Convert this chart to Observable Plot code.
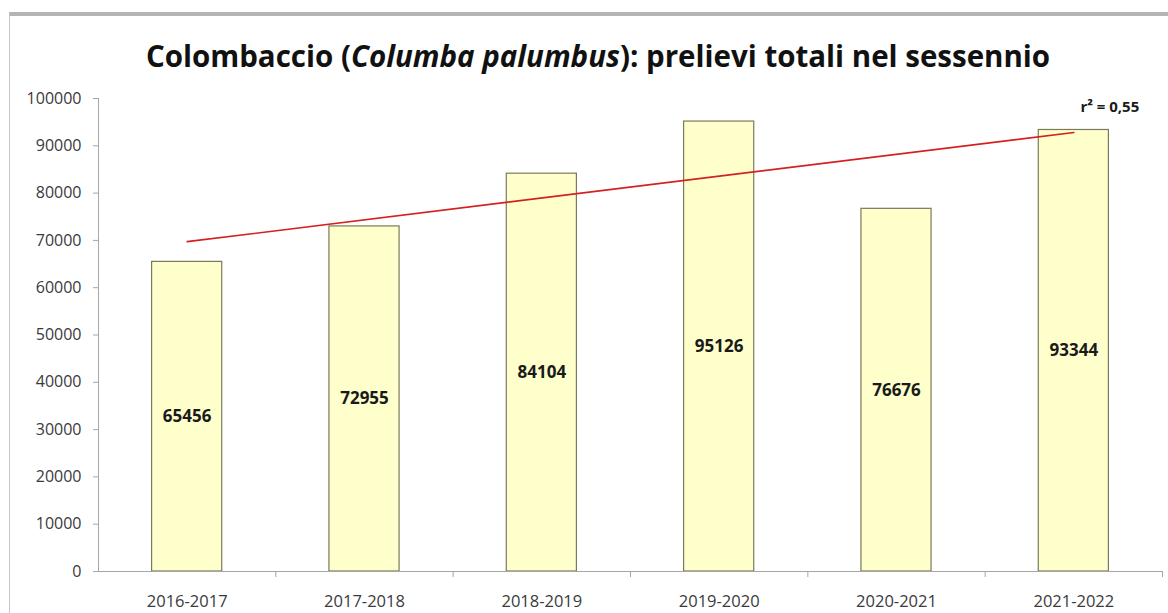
<!DOCTYPE html>
<html><head><meta charset="utf-8">
<script src="https://cdn.jsdelivr.net/npm/d3@7"></script>
<script src="https://cdn.jsdelivr.net/npm/@observablehq/plot@0.6"></script>
<style>
body{margin:0;background:#fff;}
#wrap{position:relative;width:1168px;height:613px;overflow:hidden;font-family:"Open Sans",sans-serif;background:#fff;}
#frame{position:absolute;left:9px;top:12px;right:-2px;bottom:-2px;border-top:4px solid #b4b4b4;border-left:1px solid #c8c8c8;}
#title{position:absolute;top:38px;left:14px;width:1168px;text-align:center;font-weight:700;font-size:29.5px;line-height:36px;color:#111;}
#chart{position:absolute;top:80px;left:0;}
</style></head><body>
<div id="wrap"><div id="frame"></div><div id="title">Colombaccio (<i>Columba palumbus</i>): prelievi totali nel sessennio</div><div id="chart"></div></div>
<script>
const seasons = ["2016-2017", "2017-2018", "2018-2019", "2019-2020", "2020-2021", "2021-2022"];
const totals = [65456, 72955, 84104, 95126, 76676, 93344];
const r2Label = "r² = 0,55";
const yTicks = d3.range(0, 100001, 10000);

const data = seasons.map((s, i) => ({season: s, value: totals[i], i}));

const plot = Plot.plot({
  width: 1168, height: 533,
  marginTop: 18, marginBottom: 42, marginLeft: 98, marginRight: 6,
  x: {domain: [0, seasons.length], axis: null},
  y: {domain: [0, 100000], axis: null},
  style: {fontFamily: "'Open Sans', sans-serif", fontSize: "16px", background: "transparent", overflow: "visible"},
  marks: [
    Plot.axisY({ticks: yTicks, label: null, tickSize: 5, tickPadding: 12, tickFormat: d => String(d), stroke: "#a6a6a6", fill: "#3a3a3a", fontSize: 16}),
    Plot.ruleX([0], {stroke: "#a6a6a6"}),
    Plot.axisX({ticks: d3.range(1, seasons.length + 1), label: null, tickSize: 6, tickFormat: () => "", stroke: "#a6a6a6"}),
    Plot.rect(data, {x1: d => d.i, x2: d => d.i + 1, y1: 0, y2: "value", insetLeft: 53.6, insetRight: 53.6, fill: "#ffffcc", stroke: "#7a7a5a", strokeWidth: 1.2}),
    Plot.ruleY([0], {stroke: "#a6a6a6"}),
    Plot.linearRegressionY(data, {x: d => d.i + 0.5, y: "value", ci: 0, stroke: "#d42020", strokeWidth: 1.6}),
    Plot.text(data, {x: d => d.i + 0.5, y: d => d.value / 2, text: d => String(d.value), fontWeight: "bold", fill: "#1a1a1a", fontSize: 17}),
    Plot.text(data, {x: d => d.i + 0.5, y: 0, text: "season", dy: 30, fill: "#3a3a3a", fontSize: 16.5}),
    Plot.text([r2Label], {x: seasons.length - 0.5, y: 100000, dx: 36, dy: 9, text: d => d, fontWeight: "bold", fill: "#1a1a1a", fontSize: 15})
  ]
});
document.getElementById("chart").appendChild(plot);
</script>
</body></html>
